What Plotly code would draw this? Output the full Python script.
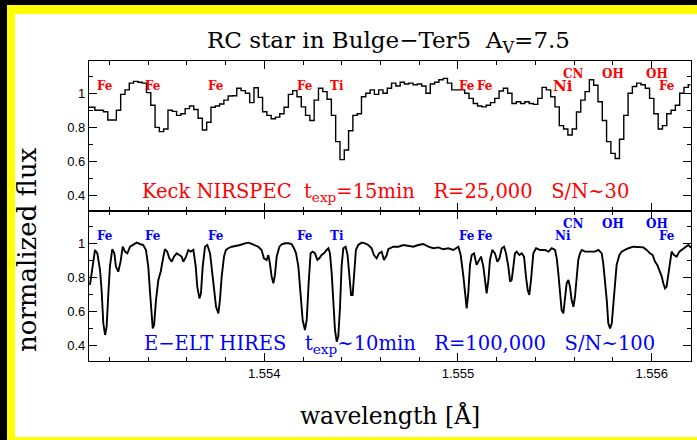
import plotly.graph_objects as go
from plotly.subplots import make_subplots

# ---- Keck NIRSPEC spectrum (R=25,000): flux per detector pixel ----
nirspec_start = 1.553092      # micron, centre of first pixel
nirspec_step = 2.22e-5        # micron per pixel
nirspec_flux = [
    0.918, 0.918, 0.900, 0.900, 0.892, 0.843, 0.843, 0.900, 0.994, 1.020,
    1.060, 1.070, 1.065, 1.060, 1.004, 0.930, 0.800, 0.775, 0.790, 0.900,
    0.894, 0.870, 0.880, 0.910, 0.925, 0.905, 0.853, 0.784, 0.830, 0.918,
    0.925, 0.937, 0.960, 0.984, 0.986, 1.030, 1.016, 1.000, 0.945, 1.033,
    0.976, 0.892, 0.870, 0.850, 0.860, 0.880, 0.918, 0.994, 1.016, 0.980,
    0.920, 0.870, 0.840, 0.960, 1.030, 1.010, 0.965, 0.870, 0.716, 0.610,
    0.667, 0.780, 0.870, 0.880, 0.980, 1.000, 1.020, 0.994, 1.020, 1.000,
    1.030, 1.060, 1.043, 1.065, 1.055, 1.060, 1.050, 1.055, 1.043, 1.000,
    1.055, 1.065, 1.080, 1.088, 1.060, 1.020, 1.020, 1.020, 1.000, 0.970,
    0.940, 0.925, 0.920, 0.930, 0.945, 0.970, 1.014, 1.030, 1.000, 0.940,
    0.950, 0.940, 0.950, 0.940, 0.935, 0.970, 1.035, 1.020, 0.980, 0.920,
    0.810, 0.790, 0.755, 0.790, 0.890, 0.960, 1.010, 1.080, 1.047, 0.950,
    0.840, 0.716, 0.647, 0.617, 0.730, 0.870, 1.000, 1.040, 1.060, 1.050,
    1.030, 0.970, 0.880, 0.790, 0.810, 0.880, 0.900, 0.930, 1.000, 1.035,
    1.050,
]
nirspec_wave = [nirspec_start + i * nirspec_step for i in range(len(nirspec_flux))]

# ---- E-ELT HIRES simulated spectrum (R=100,000) ----
hires_wave = [
    1.553100, 1.553126, 1.553138, 1.553152, 1.553160, 1.553169, 1.553178, 1.553186,
    1.553195, 1.553203, 1.553215, 1.553226, 1.553234, 1.553246, 1.553258, 1.553269,
    1.553281, 1.553293, 1.553307, 1.553324, 1.553341, 1.553358, 1.553375, 1.553389,
    1.553401, 1.553413, 1.553424, 1.553431, 1.553441, 1.553453, 1.553465, 1.553479,
    1.553487, 1.553499, 1.553510, 1.553522, 1.553534, 1.553548, 1.553561, 1.553573,
    1.553582, 1.553596, 1.553608, 1.553620, 1.553634, 1.553646, 1.553654, 1.553665,
    1.553673, 1.553682, 1.553694, 1.553706, 1.553720, 1.553728, 1.553740, 1.553751,
    1.553763, 1.553771, 1.553780, 1.553792, 1.553802, 1.553814, 1.553832, 1.553857,
    1.553875, 1.553900, 1.553918, 1.553935, 1.553952, 1.553969, 1.553986, 1.553998,
    1.554012, 1.554021, 1.554029, 1.554038, 1.554047, 1.554055, 1.554064, 1.554078,
    1.554090, 1.554107, 1.554124, 1.554141, 1.554153, 1.554164, 1.554176, 1.554188,
    1.554198, 1.554210, 1.554219, 1.554229, 1.554239, 1.554250, 1.554262, 1.554274,
    1.554284, 1.554296, 1.554308, 1.554322, 1.554331, 1.554339, 1.554348, 1.554356,
    1.554365, 1.554374, 1.554382, 1.554391, 1.554399, 1.554408, 1.554420, 1.554430,
    1.554439, 1.554448, 1.554456, 1.554463, 1.554473, 1.554485, 1.554503, 1.554520,
    1.554537, 1.554554, 1.554566, 1.554580, 1.554592, 1.554606, 1.554618, 1.554632,
    1.554640, 1.554666, 1.554692, 1.554718, 1.554744, 1.554770, 1.554795, 1.554821,
    1.554847, 1.554873, 1.554899, 1.554924, 1.554950, 1.554976, 1.555002, 1.555014,
    1.555028, 1.555036, 1.555045, 1.555053, 1.555062, 1.555071, 1.555083, 1.555096,
    1.555109, 1.555119, 1.555131, 1.555140, 1.555148, 1.555157, 1.555165, 1.555177,
    1.555191, 1.555203, 1.555214, 1.555226, 1.555238, 1.555248, 1.555260, 1.555269,
    1.555277, 1.555286, 1.555294, 1.555303, 1.555317, 1.555329, 1.555341, 1.555351,
    1.555360, 1.555368, 1.555377, 1.555389, 1.555403, 1.555423, 1.555449, 1.555467,
    1.555484, 1.555501, 1.555510, 1.555518, 1.555527, 1.555535, 1.555544, 1.555553,
    1.555561, 1.555570, 1.555578, 1.555587, 1.555596, 1.555604, 1.555613, 1.555621,
    1.555630, 1.555639, 1.555656, 1.555682, 1.555707, 1.555725, 1.555742, 1.555750,
    1.555759, 1.555768, 1.555776, 1.555785, 1.555794, 1.555802, 1.555811, 1.555819,
    1.555833, 1.555845, 1.555862, 1.555880, 1.555905, 1.555931, 1.555957, 1.555974,
    1.555991, 1.556005, 1.556017, 1.556029, 1.556040, 1.556052, 1.556060, 1.556069,
    1.556077, 1.556086, 1.556095, 1.556103, 1.556115, 1.556129, 1.556143, 1.556155,
    1.556172, 1.556189, 1.556207,
]
hires_flux = [
    0.755, 0.961, 0.941, 0.843, 0.725, 0.529, 0.461, 0.510,
    0.706, 0.863, 0.965, 0.941, 0.863, 0.833, 0.892, 0.980,
    0.951, 0.941, 0.980, 0.990, 1.004, 0.996, 0.990, 0.961,
    0.863, 0.667, 0.500, 0.520, 0.667, 0.784, 0.833, 0.922,
    0.965, 0.951, 0.912, 0.892, 0.922, 0.941, 0.931, 0.922,
    0.892, 0.922, 0.961, 0.951, 0.961, 0.863, 0.745, 0.676,
    0.706, 0.863, 0.980, 0.990, 0.941, 0.863, 0.725, 0.627,
    0.588, 0.667, 0.804, 0.922, 0.961, 0.971, 0.980, 0.984,
    0.990, 1.000, 1.004, 0.996, 0.990, 0.980, 0.961, 0.912,
    0.902, 0.931, 0.882, 0.804, 0.765, 0.814, 0.922, 0.980,
    0.994, 1.000, 1.000, 0.996, 0.971, 0.941, 0.863, 0.706,
    0.549, 0.490, 0.549, 0.765, 0.941, 0.951, 0.941, 0.902,
    0.912, 0.931, 0.941, 0.961, 0.971, 0.941, 0.824, 0.667,
    0.490, 0.422, 0.451, 0.627, 0.863, 0.971, 0.980, 0.931,
    0.824, 0.696, 0.696, 0.804, 0.961, 0.990, 1.004, 1.000,
    0.990, 0.971, 0.931, 0.912, 0.941, 0.951, 0.902, 0.931,
    0.965, 0.980, 0.980, 0.990, 0.984, 0.980, 0.990, 0.996,
    0.980, 0.971, 0.976, 0.965, 0.971, 0.961, 0.980, 0.931,
    0.804, 0.706, 0.618, 0.706, 0.873, 0.931, 0.941, 0.873,
    0.902, 0.922, 0.863, 0.765, 0.706, 0.784, 0.902, 0.961,
    0.941, 0.892, 0.912, 0.971, 0.980, 0.941, 0.863, 0.775,
    0.784, 0.863, 0.941, 0.951, 0.931, 0.941, 0.922, 0.804,
    0.725, 0.696, 0.784, 0.941, 0.971, 0.961, 0.961, 0.951,
    0.971, 0.961, 0.912, 0.824, 0.706, 0.608, 0.588, 0.667,
    0.765, 0.784, 0.745, 0.667, 0.627, 0.686, 0.804, 0.902,
    0.941, 0.961, 0.951, 0.951, 0.951, 0.961, 0.941, 0.882,
    0.784, 0.667, 0.529, 0.500, 0.529, 0.627, 0.765, 0.873,
    0.931, 0.951, 0.961, 0.971, 0.980, 0.980, 0.976, 0.961,
    0.941, 0.931, 0.892, 0.873, 0.843, 0.804, 0.765, 0.735,
    0.745, 0.814, 0.912, 0.951, 0.931, 0.922, 0.951, 0.961,
    0.980, 0.990, 0.971,
]

# ---- line identifications ----
line_names = ["Fe", "Fe", "Fe", "Fe", "Ti", "Fe", "Fe", "Ni", "CN", "OH", "OH", "Fe"]
line_waves = [1.553178, 1.553425, 1.553751, 1.554210, 1.554375, 1.555046,
              1.555139, 1.555542, 1.555594, 1.555800, 1.556027, 1.556078]
line_levels = [1.043, 1.043, 1.043, 1.043, 1.043, 1.043,
               1.043, 1.043, 1.114, 1.114, 1.114, 1.043]

x_range = [1.553095, 1.556203]
y_range = [0.308, 1.19]

W, H = 697, 440
L, R, T, B = 89, 691, 61, 361   # plotting box in pixels

def px(x):
    return (x - L) / (R - L)

def py(y):
    return (B - y) / (B - T)

SERIF = "DejaVu Serif, Liberation Serif, serif"
SANS = "Liberation Sans, Arial, sans-serif"

fig = make_subplots(rows=2, cols=1, shared_xaxes=True, vertical_spacing=0)

fig.add_trace(go.Scatter(x=nirspec_wave, y=nirspec_flux, mode="lines",
                         line=dict(color="black", width=1.4, shape="hvh"),
                         showlegend=False), row=1, col=1)
fig.add_trace(go.Scatter(x=hires_wave, y=hires_flux, mode="lines",
                         line=dict(color="black", width=1.9),
                         showlegend=False), row=2, col=1)

axis_common = dict(showline=True, linecolor="black", linewidth=1.3,
                   mirror="allticks", ticks="inside", tickcolor="black",
                   showgrid=False, zeroline=False)

for r in (1, 2):
    fig.update_xaxes(range=x_range, dtick=0.001, tick0=1.554, ticklen=8, tickwidth=1.2,
                     minor=dict(dtick=0.0002, tick0=1.554, ticklen=4, ticks="inside",
                                tickcolor="black", tickwidth=1),
                     showticklabels=(r == 2), tickformat=".3f",
                     tickfont=dict(family=SANS, size=13, color="black"),
                     row=r, col=1, **axis_common)
    fig.update_yaxes(range=y_range, tickvals=[0.4, 0.6, 0.8, 1.0],
                     ticktext=["0.4", "0.6", "0.8", "1"], ticklen=8, tickwidth=1.2,
                     minor=dict(dtick=0.1, tick0=0.0, ticklen=4, ticks="inside",
                                tickcolor="black", tickwidth=1),
                     tickfont=dict(family=SANS, size=13, color="black"),
                     row=r, col=1, **axis_common)

annotations = []
for yref, color in (("y", "#ff0000"), ("y2", "#0000ff")):
    for name, w, lev in zip(line_names, line_waves, line_levels):
        big = (name == "Ni" and yref == "y")
        annotations.append(dict(
            x=w, y=lev, xref="x" if yref == "y" else "x2", yref=yref,
            xanchor="center", yanchor="middle",
            text="<b>%s</b>" % name, showarrow=False,
            font=dict(family=SERIF, size=15 if big else 12, color=color)))

def label(x, y, text, size, color="black", angle=0):
    return dict(x=px(x), y=py(y), xref="paper", yref="paper", showarrow=False,
                xanchor="center", yanchor="middle", text=text, textangle=angle,
                font=dict(family=SERIF, size=size, color=color))

annotations += [
    label(388, 42, "RC star in Bulge\u2212Ter5  A<sub>V</sub>=7.5", 23),
    label(385, 192, "Keck NIRSPEC  t<sub>exp</sub>=15min   R=25,000   S/N~30",
          19.5, "#ff0000"),
    label(399, 344, "E\u2212ELT HIRES   t<sub>exp</sub>~10min   R=100,000   S/N~100",
          19.5, "#0000ff"),
    label(27, 250, "normalized flux", 26, angle=-90),
    label(390, 415, "wavelength [\u00c5]", 23.5),
]

# black and yellow frame around the figure
def band(x0, y0, x1, y1, color):
    return dict(type="rect", xref="paper", yref="paper", layer="below",
                x0=px(x0), x1=px(x1), y0=py(y0), y1=py(y1),
                fillcolor=color, line=dict(width=0))

shapes = [
    band(0, 0, 7, H, "black"),
    band(0, 0, W, 5, "black"),
    band(7, 5, 15, H, "#ffff00"),
    band(7, 5, W, 14, "#ffff00"),
    band(7, 437, W, H, "#ffff00"),
]

fig.update_layout(
    width=W, height=H,
    margin=dict(l=L, r=W - R, t=T, b=H - B, pad=0),
    paper_bgcolor="white", plot_bgcolor="white",
    annotations=annotations, shapes=shapes, showlegend=False,
)

fig.write_html("out.html")
